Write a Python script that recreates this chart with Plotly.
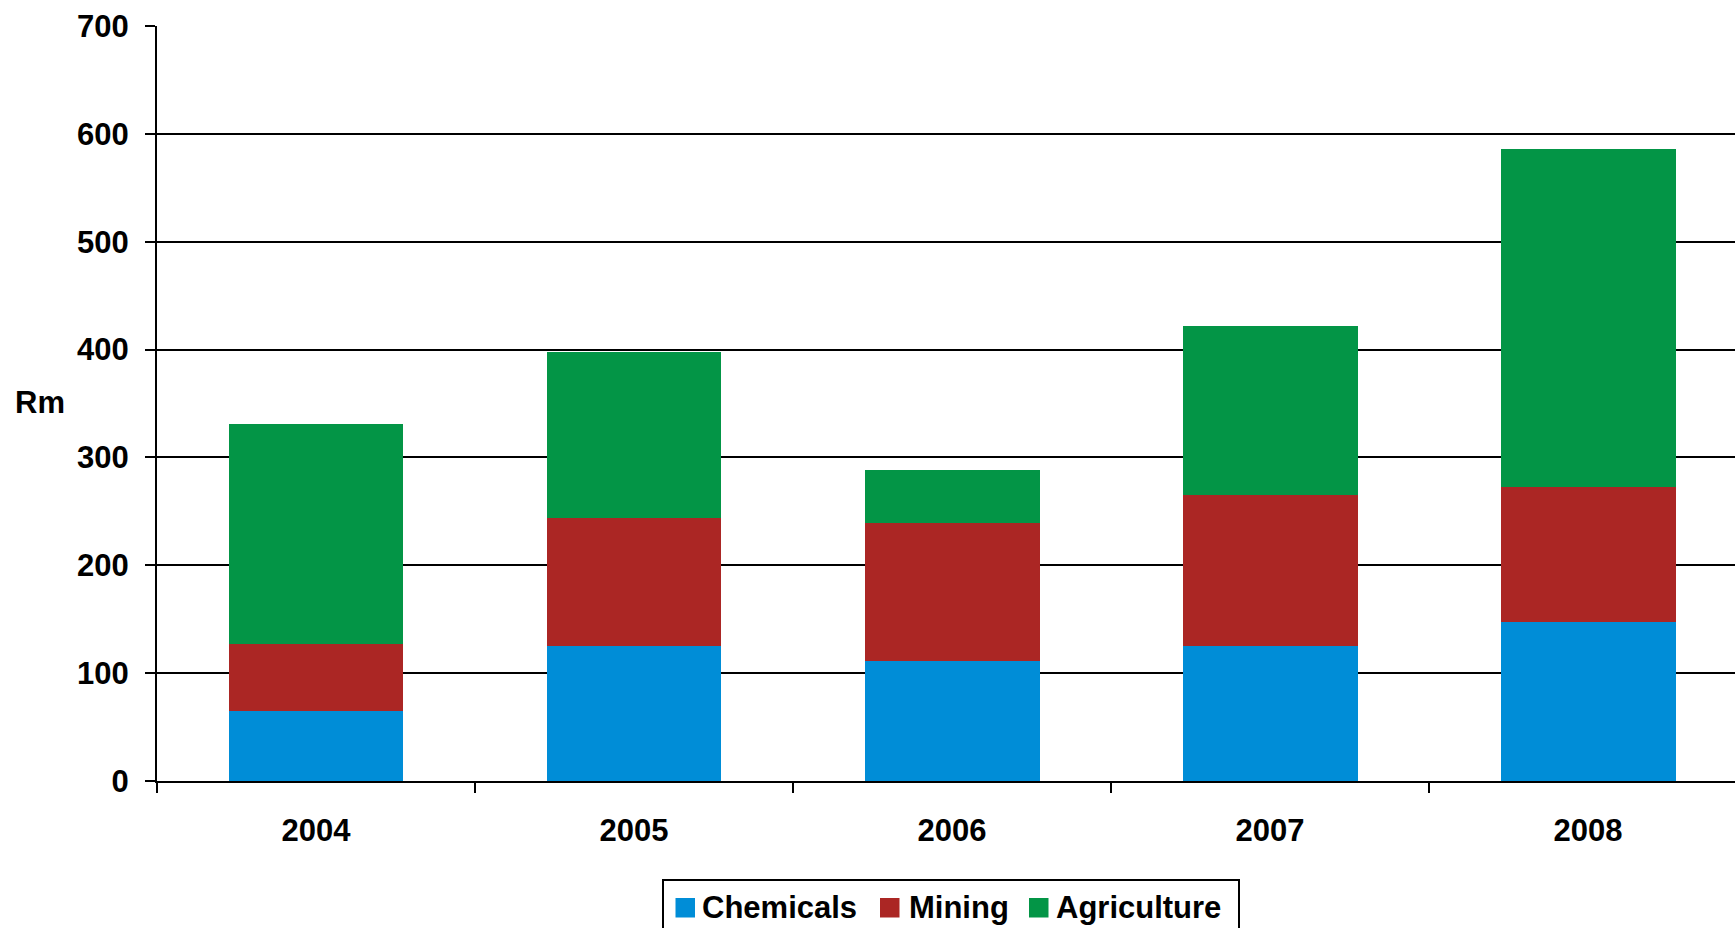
import plotly.graph_objects as go

# Investment by sector, Rm
years = ["2004", "2005", "2006", "2007", "2008"]
chemicals = [64.5, 125.6, 110.8, 125.6, 147.8]
mining = [62.4, 118.5, 128.7, 139.2, 124.4]
agriculture = [204.5, 153.7, 49.1, 157.4, 313.4]
y_ticks = [0, 100, 200, 300, 400, 500, 600, 700]

BLUE = "#008dd7"
RED = "#ab2624"
GREEN = "#039546"
FONT = dict(family="Liberation Sans, Arial, sans-serif", size=31, color="black", weight="bold")

series = [("Chemicals", chemicals, BLUE), ("Mining", mining, RED), ("Agriculture", agriculture, GREEN)]

W, H = 1735, 928
ML, MR, MT, MB = 157, 0, 26, 147
PW, PH = W - ML - MR, H - MT - MB


def px_x(px):
    return (px - ML) / PW


def px_y(py):
    return (H - MB - py) / PH


fig = go.Figure()
for name, vals, col in series:
    fig.add_trace(go.Bar(x=years, y=vals, name=name, marker=dict(color=col, line=dict(width=0)),
                         showlegend=False))

# legend: framed box below the plot, running off the bottom edge
shapes = [dict(type="rect", xref="paper", yref="paper", x0=px_x(663), x1=px_x(1239),
               y0=px_y(945), y1=px_y(880), line=dict(color="black", width=2), fillcolor="white",
               layer="above")]
annotations = []
legend_items = [(675.5, 703), (880, 910), (1029, 1057)]
for (sx, tx), (name, vals, col) in zip(legend_items, series):
    shapes.append(dict(type="rect", xref="paper", yref="paper", x0=px_x(sx), x1=px_x(sx + 19.5),
                       y0=px_y(917.5), y1=px_y(898), line=dict(width=0), fillcolor=col, layer="above"))
    annotations.append(dict(text=name, xref="paper", yref="paper", x=px_x(tx - 3), y=px_y(907),
                            xanchor="left", yanchor="middle", showarrow=False, font=FONT))

annotations.append(dict(text="Rm", xref="paper", yref="paper", x=-0.0915, y=0.501,
                        xanchor="left", yanchor="middle", showarrow=False, font=FONT))

fig.update_layout(
    width=W, height=H,
    margin=dict(l=ML, r=MR, t=MT, b=MB),
    barmode="stack", bargap=0.45,
    plot_bgcolor="white", paper_bgcolor="white",
    font=FONT,
    showlegend=False,
    xaxis=dict(type="category", range=[-0.5, 4.462], tickson="boundaries", ticks="outside",
               ticklen=10, tickwidth=2, tickcolor="black", showline=True, linecolor="black",
               linewidth=2, showgrid=False, tickfont=FONT, ticklabelstandoff=21, automargin=False),
    yaxis=dict(range=[0, 700], tickvals=y_ticks, ticks="outside", ticklen=10, tickwidth=2,
               tickcolor="black", showline=True, linecolor="black", linewidth=2,
               showgrid=True, gridcolor="black", gridwidth=2, zeroline=False, tickfont=FONT,
               ticklabelstandoff=10, automargin=False),
    shapes=shapes,
    annotations=annotations,
)

fig.write_html("out.html")
